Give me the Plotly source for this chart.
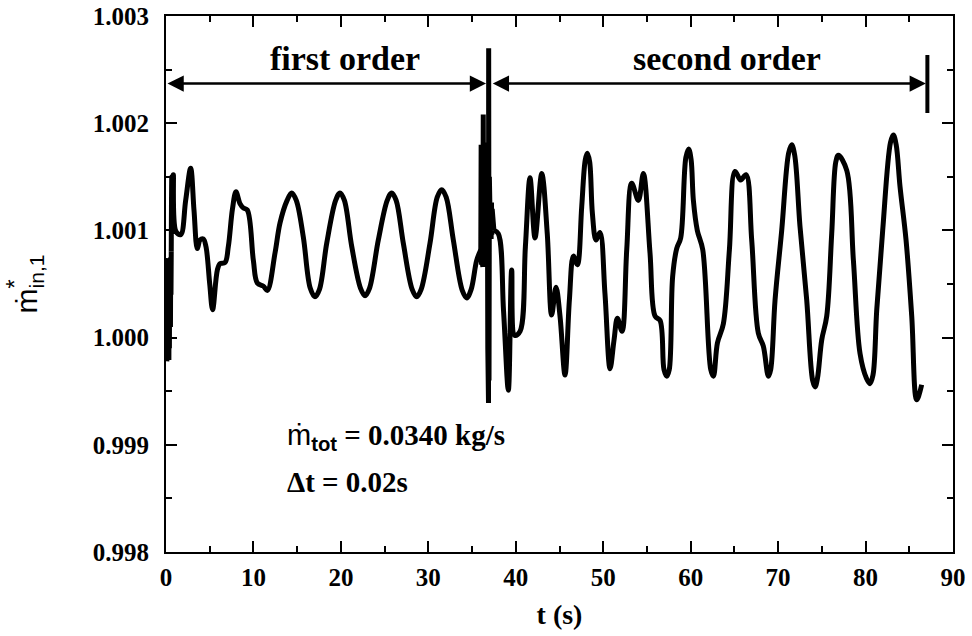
import plotly.graph_objects as go

# Inlet mass-flow ratio vs time; the run switches from a first-order to a
# second-order scheme at t ~ 37 s.

# start-up transient (rapid oscillation at t ~ 0)
t_start = [0.00, 0.03, 0.06, 0.09, 0.12, 0.15, 0.18, 0.21, 0.24, 0.27, 0.30,
           0.33, 0.36, 0.39, 0.42, 0.45, 0.48, 0.51, 0.54, 0.57, 0.60]
m_start = [1.00070, 0.99985, 1.00074, 0.99978, 1.00068, 0.99982, 1.00072,
           0.99980, 1.00064, 0.99988, 1.00070, 0.99979, 1.00066, 0.99990,
           1.00072, 0.99994, 1.00060, 1.00010, 1.00075, 1.00040, 1.00080]

# first-order scheme
t_first = [0.60, 0.66, 0.72, 0.84, 1.14, 1.68, 2.25, 2.82, 3.20, 3.58, 3.89,
           4.27, 4.57, 5.00, 5.33, 5.87, 6.18, 6.75, 7.13, 7.60, 8.00, 8.46,
           8.84, 9.30, 9.99, 10.44, 11.13, 11.59, 12.47, 13.04, 13.85, 14.37,
           14.90, 15.70, 16.50, 17.04, 17.55, 18.38, 19.40, 19.90, 20.40,
           21.24, 22.25, 22.76, 23.27, 24.28, 25.30, 25.81, 26.32, 27.14,
           28.15, 28.67, 29.18, 30.19, 31.02, 31.53, 32.04, 32.86, 33.88,
           34.39, 34.90, 35.53, 36.00]
m_first = [1.00080, 1.00150, 1.00098, 1.00152, 1.00099, 1.00096, 1.00128,
           1.00158, 1.00119, 1.00083, 1.00091, 1.00092, 1.00085, 1.00050,
           1.00026, 1.00063, 1.00069, 1.00070, 1.00085, 1.00120, 1.00136,
           1.00125, 1.00121, 1.00119, 1.00072, 1.00051, 1.00048, 1.00044,
           1.00079, 1.00107, 1.00128, 1.00135, 1.00128, 1.00094, 1.00046,
           1.00038, 1.00045, 1.00088, 1.00128, 1.00135, 1.00128, 1.00085,
           1.00046, 1.00039, 1.00046, 1.00091, 1.00128, 1.00135, 1.00128,
           1.00088, 1.00045, 1.00038, 1.00045, 1.00088, 1.00131, 1.00138,
           1.00131, 1.00091, 1.00044, 1.00037, 1.00045, 1.00072, 1.00082]

# transient at the scheme switch
t_switch = [36.00, 36.04, 36.08, 36.12, 36.16, 36.20, 36.24, 36.28, 36.32,
            36.36, 36.40, 36.44, 36.48, 36.52, 36.56, 36.60, 36.64, 36.68,
            36.72, 36.76, 36.80, 36.84, 36.88, 36.90, 36.94, 36.98, 37.02,
            37.06, 37.10, 37.14, 37.18, 37.22, 37.26, 37.30, 37.36, 37.42,
            37.50]
m_switch = [1.00082, 1.00180, 1.00068, 1.00178, 1.00070, 1.00184, 1.00066,
            1.00208, 1.00072, 1.00176, 1.00068, 1.00182, 1.00070, 1.00160,
            1.00074, 1.00150, 1.00068, 1.00140, 1.00080, 1.00120, 0.99990,
            1.00230, 0.99939, 1.00270, 0.99960, 1.00150, 1.00096, 1.00128,
            1.00094, 1.00124, 1.00092, 1.00126, 1.00096, 1.00120, 1.00100,
            1.00110, 1.00100]

# second-order scheme
t_second = [37.50, 38.00, 38.60, 39.15, 39.53, 39.90, 40.50, 41.10, 41.63,
            42.20, 42.97, 43.60, 44.10, 44.60, 45.06, 45.63, 46.13, 46.59,
            47.04, 47.54, 47.95, 48.19, 48.45, 48.76, 49.18, 49.63, 50.20,
            50.78, 51.24, 51.62, 52.15, 52.69, 53.26, 54.02, 54.59, 55.35,
            55.93, 56.50, 56.95, 57.26, 57.55, 57.94, 58.40, 58.86, 59.45,
            59.77, 60.05, 60.31, 60.76, 61.38, 62.30, 62.60, 63.06, 63.74,
            64.43, 65.07, 65.72, 66.33, 66.98, 67.74, 68.31, 68.89, 69.15,
            69.65, 70.41, 71.20, 71.55, 71.90, 72.50, 73.27, 73.95, 74.23,
            74.50, 74.99, 75.56, 76.13, 76.60, 76.89, 77.85, 78.61, 79.37,
            80.10, 80.50, 80.85, 81.28, 81.96, 82.85, 83.18, 83.50, 83.94,
            84.63, 85.28, 85.85, 86.42]
m_second = [1.00100, 1.00097, 1.00025, 0.99951, 1.00063, 1.00002, 1.00006,
            1.00085, 1.00149, 1.00093, 1.00153, 1.00097, 1.00021, 1.00047,
            1.00020, 0.99965, 1.00035, 1.00076, 1.00068, 1.00122, 1.00166,
            1.00172, 1.00164, 1.00116, 1.00091, 1.00098, 1.00041, 0.99971,
            0.99998, 1.00018, 1.00006, 1.00082, 1.00144, 1.00128, 1.00153,
            1.00079, 1.00020, 1.00016, 0.99970, 0.99964, 0.99970, 1.00057,
            1.00083, 1.00093, 1.00168, 1.00176, 1.00166, 1.00128, 1.00100,
            1.00082, 0.99970, 0.99964, 0.99995, 1.00013, 1.00082, 1.00155,
            1.00147, 1.00152, 1.00091, 1.00004, 0.99992, 0.99964, 0.99970,
            1.00035, 1.00100, 1.00172, 1.00180, 1.00170, 1.00104, 1.00035,
            0.99960, 0.99954, 0.99962, 0.99998, 1.00020, 1.00097, 1.00164,
            1.00170, 1.00156, 1.00072, 0.99985, 0.99962, 0.99957, 0.99965,
            1.00026, 1.00100, 1.00182, 1.00189, 1.00180, 1.00141, 1.00091,
            1.00020, 0.99942, 0.99956]

# scheme regions: (label, arrow start, arrow end, label centre)
regions = [("first order", 0.0, 36.6, 20.5),
           ("second order", 37.2, 86.9, 64.2)]
end_marker_t = 87.07

x_ticks = [0, 10, 20, 30, 40, 50, 60, 70, 80, 90]
y_ticks = [0.998, 0.999, 1.000, 1.001, 1.002, 1.003]

SERIF = "Liberation Serif, Times New Roman, serif"
SANS = "Liberation Sans, Arial, DejaVu Sans, sans-serif"
LINE = dict(color="black", width=5)

fig = go.Figure()
fig.add_trace(go.Scatter(x=t_start, y=m_start, mode="lines", line=LINE))
fig.add_trace(go.Scatter(x=t_first, y=m_first, mode="lines",
                         line=dict(LINE, shape="spline", smoothing=1.0)))
fig.add_trace(go.Scatter(x=t_switch, y=m_switch, mode="lines", line=LINE))
fig.add_trace(go.Scatter(x=t_second, y=m_second, mode="lines",
                         line=dict(LINE, shape="spline", smoothing=1.0)))

axis_common = dict(
    showline=True, linecolor="black", linewidth=2, mirror="ticks",
    ticks="inside", ticklen=11, tickwidth=2, tickcolor="black",
    showgrid=False, zeroline=False, automargin=False,
    tickfont=dict(family=SERIF, size=25, color="black", weight="bold"),
)

fig.update_xaxes(
    range=[0, 90], tickvals=x_ticks,
    minor=dict(dtick=5, ticks="inside", ticklen=6, tickwidth=2,
               tickcolor="black", showgrid=False),
    ticklabelstandoff=2,
    title=dict(text="t (s)", standoff=14,
               font=dict(family=SERIF, size=28, color="black", weight="bold")),
    **axis_common,
)
fig.update_yaxes(
    range=[0.998, 1.003], tickvals=y_ticks, tickformat=".3f",
    minor=dict(dtick=0.0005, ticks="inside", ticklen=6, tickwidth=2,
               tickcolor="black", showgrid=False),
    ticklabelstandoff=10,
    title=dict(text="ṁ<sub>in,1</sub>", standoff=46,
               font=dict(family=SANS, size=30, color="black")),
    **axis_common,
)

arrow_y = 1.00237
label_y = 1.00260
annotations = []
for label, t0, t1, tc in regions:
    annotations.append(dict(
        x=t1, y=arrow_y, ax=t0, ay=arrow_y, xref="x", yref="y",
        axref="x", ayref="y", text="", showarrow=True,
        arrowhead=2, startarrowhead=2, arrowside="end+start",
        arrowsize=1.3, startarrowsize=1.3, arrowwidth=2.5,
        arrowcolor="black", standoff=0, startstandoff=0,
    ))
    annotations.append(dict(
        x=tc, y=label_y, xref="x", yref="y", text=label, showarrow=False,
        xanchor="center", yanchor="middle",
        font=dict(family=SERIF, size=34, color="black", weight="bold"),
    ))

# asterisk over the m-dot in the axis title
annotations.append(dict(
    x=-0.193, y=0.499, xref="paper", yref="paper", text="*",
    textangle=-90, showarrow=False, xanchor="center", yanchor="middle",
    font=dict(family=SANS, size=24, color="black"),
))

annotations.append(dict(
    x=13.6, y=0.999073, xref="x", yref="y", xanchor="left", yanchor="middle",
    showarrow=False,
    text=('<span style="font-family:Liberation Sans;font-weight:normal">ṁ</span>'
          '<sub><span style="font-family:Liberation Sans">tot</span></sub>'
          ' = 0.0340 kg/s'),
    font=dict(family=SERIF, size=29, color="black", weight="bold"),
))
annotations.append(dict(
    x=13.6, y=0.998653, xref="x", yref="y", xanchor="left", yanchor="middle",
    showarrow=False, text="Δt = 0.02s",
    font=dict(family=SERIF, size=29, color="black", weight="bold"),
))

fig.update_layout(
    width=972, height=636,
    margin=dict(l=166, r=19, t=16, b=84),
    paper_bgcolor="white", plot_bgcolor="white",
    showlegend=False,
    annotations=annotations,
    shapes=[dict(type="line", xref="x", yref="y",
                 x0=end_marker_t, x1=end_marker_t, y0=1.002095, y1=1.002636,
                 line=dict(color="black", width=4))],
)

fig.write_html("out.html")
